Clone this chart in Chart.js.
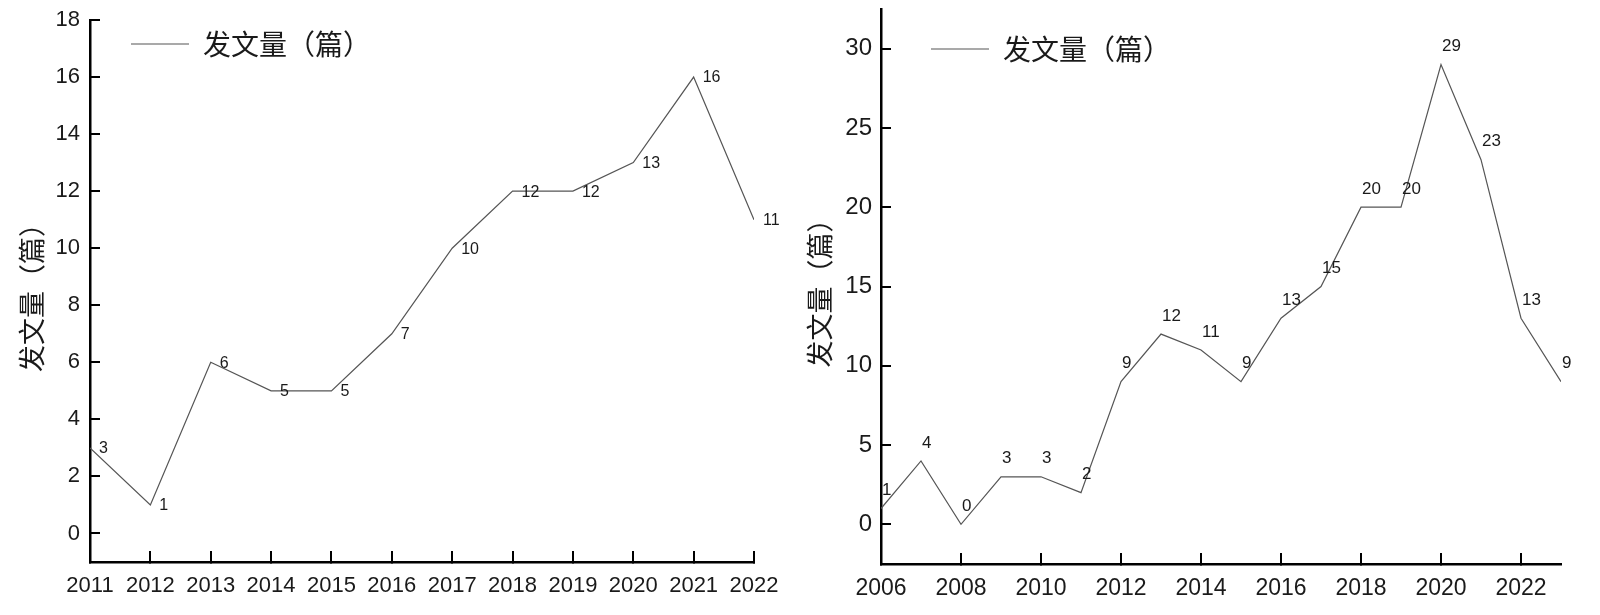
<!DOCTYPE html>
<html>
<head>
<meta charset="utf-8">
<script src="https://cdn.jsdelivr.net/npm/chart.js@4/dist/chart.umd.min.js"></script>
<style>
  html, body { margin: 0; padding: 0; background: #fff; }
  .box { position: absolute; top: 0; }
</style>
</head>
<body>
<div class="box" style="left:0"><canvas id="left_chart" width="790" height="615"></canvas></div>
<div class="box" style="left:790px"><canvas id="right_chart" width="810" height="615"></canvas></div>
<script>
/*
 * Data
 */
const seriesName = "发文量（篇）"

const leftYears = [2011, 2012, 2013, 2014, 2015, 2016, 2017, 2018, 2019, 2020, 2021, 2022]
const leftCounts = [3, 1, 6, 5, 5, 7, 10, 12, 12, 13, 16, 11]
const leftXTicks = [2011, 2012, 2013, 2014, 2015, 2016, 2017, 2018, 2019, 2020, 2021, 2022]
const leftYTicks = [0, 2, 4, 6, 8, 10, 12, 14, 16, 18]

const rightYears = [2006, 2007, 2008, 2009, 2010, 2011, 2012, 2013, 2014, 2015, 2016, 2017, 2018, 2019, 2020, 2021, 2022, 2023]
const rightCounts = [1, 4, 0, 3, 3, 2, 9, 12, 11, 9, 13, 15, 20, 20, 29, 23, 13, 9]
const rightXTicks = [2006, 2008, 2010, 2012, 2014, 2016, 2018, 2020, 2022]
const rightYTicks = [0, 5, 10, 15, 20, 25, 30]

const latin = "'Liberation Sans', Arial, sans-serif"
const cjk = "'Noto Sans CJK SC', 'Liberation Sans', sans-serif"
const ink = "#1a1a1a"

/*
 * Small plugins: value labels next to the points, and a legend moved to a fixed spot
 */
const valueLabels = {
    id: "valueLabels",
    afterDatasetsDraw(chart, args, opts) {
        const ctx = chart.ctx
        const meta = chart.getDatasetMeta(0)
        const data = chart.data.datasets[0].data
        ctx.save()
        ctx.font = opts.font
        ctx.fillStyle = ink
        ctx.textAlign = "left"
        ctx.textBaseline = "middle"
        meta.data.forEach((pt, i) => {
            ctx.fillText(String(data[i].y), pt.x + opts.dx, pt.y + opts.dy)
        })
        ctx.restore()
    }
}

const legendSpot = {
    id: "legendSpot",
    afterLayout(chart, args, opts) {
        const lg = chart.legend
        if (!lg) return
        const w = lg.right - lg.left
        lg.left = opts.x
        lg.right = opts.x + w
        lg.top = opts.y
    }
}

function points(years, counts) {
    return years.map((y, i) => ({ x: y, y: counts[i] }))
}

function makeConfig(p) {
    return {
        type: "line",
        data: {
            datasets: [{
                label: seriesName,
                data: points(p.years, p.counts),
                borderColor: "#555",
                borderWidth: 1.2,
                pointRadius: 0,
                tension: 0,
                fill: false
            }]
        },
        options: {
            responsive: false,
            animation: false,
            layout: { padding: p.padding },
            plugins: {
                tooltip: { enabled: false },
                legend: {
                    position: "chartArea",
                    align: "start",
                    labels: {
                        usePointStyle: true,
                        pointStyle: "line",
                        pointStyleWidth: 58,
                        padding: 0,
                        color: ink,
                        font: { family: cjk, size: 28, lineHeight: 1 }
                    }
                },
                legendSpot: p.legendAt,
                valueLabels: p.labels
            },
            scales: {
                x: {
                    type: "linear",
                    min: p.xMin,
                    max: p.xMax,
                    afterBuildTicks: s => { s.ticks = p.xTicks.map(v => ({ value: v })) },
                    afterFit: s => { s.height = p.xHeight; s.paddingLeft = 0; s.paddingRight = 0 },
                    border: { display: true, color: "#000", width: 2.5 },
                    grid: { display: true, drawOnChartArea: false, drawTicks: true, tickLength: -11, color: "#000", lineWidth: 2 },
                    ticks: {
                        padding: p.xPad,
                        color: ink,
                        maxRotation: 0,
                        autoSkip: false,
                        font: { family: latin, size: p.xTickSize },
                        callback: v => String(v)
                    }
                },
                y: {
                    type: "linear",
                    min: p.yMin,
                    max: p.yMax,
                    afterBuildTicks: s => { s.ticks = p.yTicks.map(v => ({ value: v })) },
                    afterFit: s => { s.width = p.yWidth; s.paddingTop = 0; s.paddingBottom = 0 },
                    border: { display: true, color: "#000", width: 2.5 },
                    grid: { display: true, drawOnChartArea: false, drawTicks: true, tickLength: -10, color: "#000", lineWidth: 2 },
                    ticks: {
                        padding: p.yPad,
                        color: ink,
                        autoSkip: false,
                        font: { family: latin, size: p.yTickSize },
                        callback: v => String(v)
                    },
                    title: {
                        display: true,
                        text: seriesName,
                        color: ink,
                        padding: { top: p.titlePad, bottom: 0 },
                        font: { family: cjk, size: 27, lineHeight: 1.2 }
                    }
                }
            }
        },
        plugins: [valueLabels, legendSpot]
    }
}

/*
 * Left panel, 2011-2022
 */
let leftConfig = makeConfig({
    years: leftYears, counts: leftCounts,
    xTicks: leftXTicks, yTicks: leftYTicks,
    xMin: 2011, xMax: 2022, yMin: -1, yMax: 18,
    padding: { top: 20, right: 36, bottom: 0, left: 0 },
    xHeight: 53, yWidth: 90,
    xPad: 22, yPad: 20, xTickSize: 22, yTickSize: 22, titlePad: 16,
    legendAt: { x: 131, y: 30 },
    labels: { font: "16px " + latin, dx: 9, dy: 1 }
})

var leftCanvas = document.getElementById("left_chart")
var leftChart = new Chart(leftCanvas, leftConfig)

/*
 * Right panel, 2006-2023
 */
let rightConfig = makeConfig({
    years: rightYears, counts: rightCounts,
    xTicks: rightXTicks, yTicks: rightYTicks,
    xMin: 2006, xMax: 2023, yMin: -2.5, yMax: 32.5,
    padding: { top: 9, right: 39, bottom: 0, left: 0 },
    xHeight: 51, yWidth: 91,
    xPad: 22, yPad: 19, xTickSize: 23, yTickSize: 24, titlePad: 14,
    legendAt: { x: 141, y: 35 },
    labels: { font: "17px " + latin, dx: 1, dy: -18 }
})

var rightCanvas = document.getElementById("right_chart")
var rightChart = new Chart(rightCanvas, rightConfig)
</script>
</body>
</html>
